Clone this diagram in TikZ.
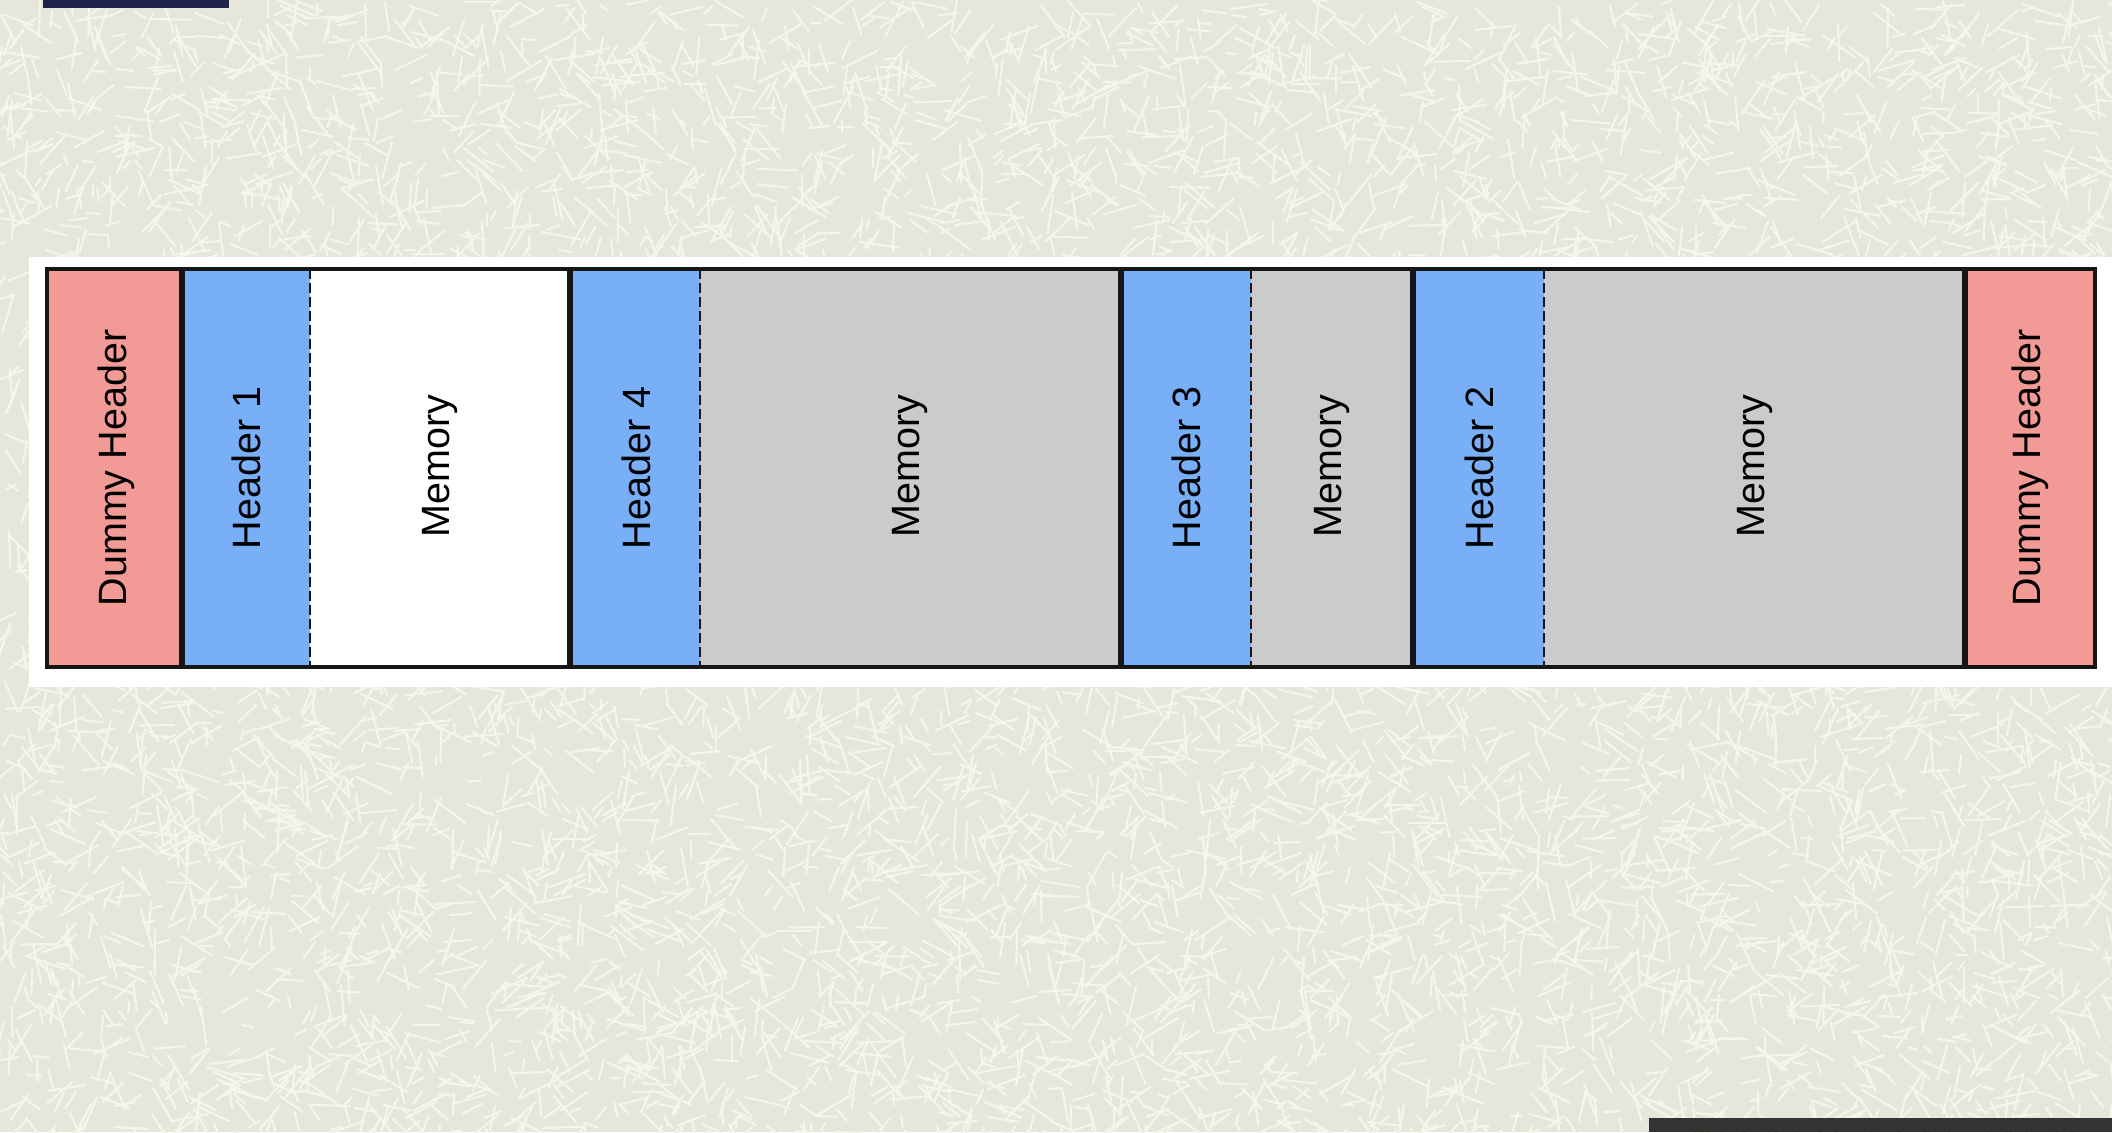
\documentclass[tikz,border=0pt]{standalone}
\usepackage{fontspec}
\setmainfont{Liberation Sans}
\definecolor{bgbase}{HTML}{E6E7DA}
\definecolor{bgscratch}{HTML}{F4F5EB}
\definecolor{pinkc}{HTML}{F19A96}
\definecolor{bluec}{HTML}{78AFF7}
\definecolor{grayc}{HTML}{CBCBCB}
\definecolor{linec}{HTML}{161616}
\definecolor{navybar}{HTML}{21244A}
\definecolor{darkbar}{HTML}{333333}
\tikzset{
  lbl/.style={rotate=90, inner sep=0pt, text=black, font=\fontsize{19.75}{24}\selectfont},
  solidline/.style={draw=linec, line width=2.6pt},
  dashline/.style={draw=linec, line width=1.35pt, dash pattern=on 5pt off 2pt},
  border/.style={draw=linec, line width=2.4pt, line join=miter}
}
\begin{document}
\begin{tikzpicture}[x=0.5pt, y=-0.5pt]
\useasboundingbox (0,0) rectangle (2112,1132);
\clip (0,0) rectangle (2112,1132);
% textured background
\fill[bgbase] (0,0) rectangle (2112,1132);
\pgfmathsetseed{4242}
\foreach \i in {1,...,8500}{
  \pgfmathsetmacro\xx{random(0,2112)}
  \pgfmathsetmacro\yy{random(0,1132)}
  \pgfmathsetmacro\aa{random(0,179)}
  \pgfmathsetmacro\ll{random(10,40)}
  \draw[bgscratch, line width=1.1pt, line cap=round] (\xx,\yy) -- ++(\aa:\ll);
}
% top-left and bottom-right bars
\fill[navybar] (43,0) rectangle (229,8);
\fill[darkbar] (1649,1118) rectangle (2112,1132);
% white band
\fill[white] (29,257) rectangle (2112,687);
% cell fills
\fill[pinkc] (47,269) rectangle (182,667);
\fill[bluec] (182,269) rectangle (310,667);
\fill[white] (310,269) rectangle (570,667);
\fill[bluec] (570,269) rectangle (700,667);
\fill[grayc] (700,269) rectangle (1121,667);
\fill[bluec] (1121,269) rectangle (1251,667);
\fill[grayc] (1251,269) rectangle (1413,667);
\fill[bluec] (1413,269) rectangle (1544,667);
\fill[grayc] (1544,269) rectangle (1965,667);
\fill[pinkc] (1965,269) rectangle (2095,667);
% dividers
\foreach \x in {182,570,1121,1413,1965}{
  \draw[solidline] (\x,269) -- (\x,667);
}
\foreach \x in {310,700,1251,1544}{
  \draw[dashline] (\x,269) -- (\x,667);
}
% outer border
\draw[border] (47,269) rectangle (2095,667);
% labels
\node[lbl] (dummyL) at (116,468) {Dummy Header};
\node[lbl] (head1) at (246,468) {Header 1};
\node[lbl] (mem1) at (440,466) {Memory};
\node[lbl] (head4) at (636,468) {Header 4};
\node[lbl] (mem4) at (910,466) {Memory};
\node[lbl] (head3) at (1186,468) {Header 3};
\node[lbl] (mem3) at (1332,466) {Memory};
\node[lbl] (head2) at (1479,468) {Header 2};
\node[lbl] (mem2) at (1755,466) {Memory};
\node[lbl] (dummyR) at (2030,468) {Dummy Header};
\end{tikzpicture}
\end{document}
